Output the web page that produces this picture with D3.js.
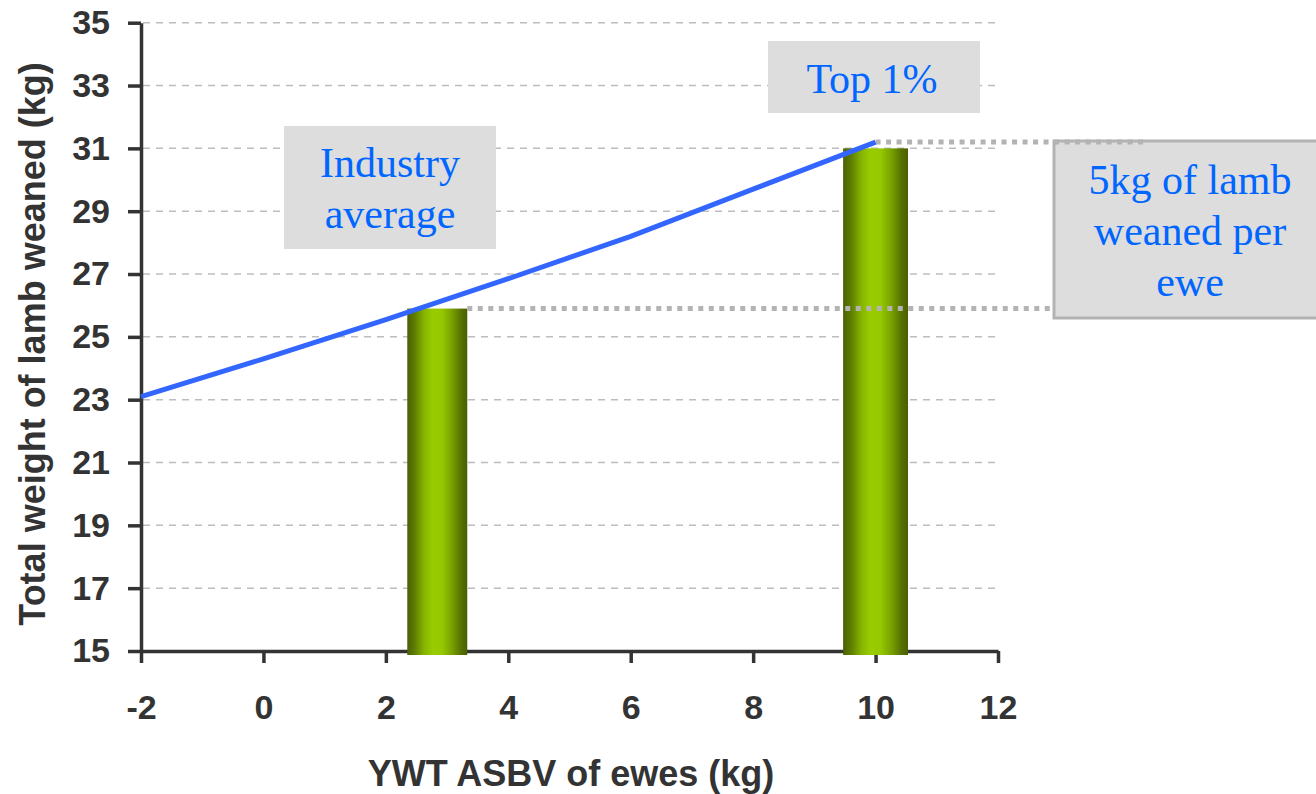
<!DOCTYPE html>
<html>
<head>
<meta charset="utf-8">
<script src="https://cdn.jsdelivr.net/npm/d3@7"></script>
<style>
  html, body { margin: 0; padding: 0; background: #ffffff; }
  svg { display: block; }
</style>
</head>
<body>
<svg id="chart" width="1316" height="794"></svg>
<script>
// ---- data ----
const xTicks = [-2, 0, 2, 4, 6, 8, 10, 12];
const yTicks = [15, 17, 19, 21, 23, 25, 27, 29, 31, 33, 35];

// total weight of lamb weaned against ewe YWT ASBV
const lineX = [-2, 0, 2, 4, 6, 8, 10];
const lineY = [23.1, 24.3, 25.55, 26.85, 28.2, 29.7, 31.2];

// the two highlighted flocks
const barNames = ["Industry average", "Top 1%"];
const barX = [2.84, 10];
const barY = [25.9, 31];
const barW = [0.98, 1.06];

const xTitle = "YWT ASBV of ewes (kg)";
const yTitle = "Total weight of lamb weaned (kg)";
const gapLabel = ["5kg of lamb", "weaned per", "ewe"];

// ---- layout ----
const svg = d3.select("#chart");
const x = d3.scaleLinear().domain([-2, 12]).range([141, 998]);
const y = d3.scaleLinear().domain([15, 35]).range([651, 22.7]);

const axisColor = "#333333";
const sansBold = "'Liberation Sans', Arial, sans-serif";
const serif = "'Liberation Serif', 'Times New Roman', serif";
const noteBlue = "#0066ff";
const boxFill = "#dddddd";
const dotGray = "#b3b3b3";

// gradient giving the bars their rounded, cylinder look
const defs = svg.append("defs");
const grad = defs.append("linearGradient").attr("id", "barGrad")
  .attr("x1", "0%").attr("x2", "100%").attr("y1", "0%").attr("y2", "0%");
[["0%", "#4a6000"], ["12%", "#5e7c00"], ["28%", "#86b400"], ["42%", "#99cc00"],
 ["58%", "#96c800"], ["74%", "#79a200"], ["90%", "#567000"], ["100%", "#4a6000"]]
  .forEach(([o, c]) => grad.append("stop").attr("offset", o).attr("stop-color", c));

// horizontal dashed gridlines
svg.append("g").selectAll("line")
  .data(yTicks.filter(v => v > 15))
  .join("line")
  .attr("x1", x(-2) + 2).attr("x2", x(12) - 3)
  .attr("y1", d => y(d)).attr("y2", d => y(d))
  .attr("stroke", "#bdbdbd").attr("stroke-width", 1.5)
  .attr("stroke-dasharray", "7,6");

// label boxes for the bars
function noteBox(x0, y0, w, h, lines, cx, baseline0, lineGap, border) {
  const g = svg.append("g");
  g.append("rect").attr("x", x0).attr("y", y0).attr("width", w).attr("height", h)
    .attr("fill", boxFill)
    .attr("stroke", border ? dotGray : "none").attr("stroke-width", border ? 3 : 0);
  g.selectAll("text").data(lines).join("text")
    .attr("x", cx).attr("y", (d, i) => baseline0 + i * lineGap)
    .attr("text-anchor", "middle")
    .attr("font-family", serif).attr("font-size", 42)
    .attr("fill", noteBlue)
    .text(d => d);
  return g;
}
noteBox(284, 126, 212, 123, ["Industry", "average"], 390, 177, 51, false);
noteBox(768, 41, 212, 72, [barNames[1]], 872, 93, 0, false);

// axes
const yAxis = svg.append("g").attr("transform", `translate(${x(-2)},0)`)
  .call(d3.axisLeft(y).tickValues(yTicks).tickSize(13).tickSizeOuter(0).tickPadding(18));
const xAxis = svg.append("g").attr("transform", `translate(0,${y(15)})`)
  .call(d3.axisBottom(x).tickValues(xTicks).tickSize(12).tickSizeOuter(0).tickPadding(32));
[yAxis, xAxis].forEach(a => {
  a.selectAll("path.domain").attr("stroke", axisColor).attr("stroke-width", 3.5);
  a.selectAll(".tick line").attr("stroke", axisColor).attr("stroke-width", 3.5);
  a.selectAll(".tick text")
    .attr("font-family", sansBold).attr("font-weight", "bold")
    .attr("font-size", 34).attr("fill", axisColor);
});
xAxis.selectAll(".tick text").text(d => String(d).replace("\u2212", "-"));

// bars
svg.append("g").selectAll("rect")
  .data(barX.map((v, i) => ({ x: v, y: barY[i], w: barW[i] })))
  .join("rect")
  .attr("x", d => x(d.x - d.w / 2))
  .attr("width", d => x(d.x + d.w / 2) - x(d.x - d.w / 2))
  .attr("y", d => y(d.y))
  .attr("height", d => y(15) + 4 - y(d.y))
  .attr("fill", "url(#barGrad)");

// box stating the gap between the two flocks
noteBox(1054, 141, 272, 177, gapLabel, 1190, 194, 51, true);

// dotted leaders marking the two levels
const lastX = lineX[lineX.length - 1], lastY = lineY[lineY.length - 1];
svg.append("line")
  .attr("x1", x(barX[0] + barW[0] / 2)).attr("x2", 1054)
  .attr("y1", y(barY[0])).attr("y2", y(barY[0]))
  .attr("stroke", dotGray).attr("stroke-width", 5).attr("stroke-dasharray", "5,5.5");
svg.append("line")
  .attr("x1", x(lastX)).attr("x2", 1148)
  .attr("y1", y(lastY)).attr("y2", y(lastY))
  .attr("stroke", dotGray).attr("stroke-width", 5).attr("stroke-dasharray", "5,5.5");

// response line
svg.append("path")
  .datum(lineX.map((v, i) => [v, lineY[i]]))
  .attr("fill", "none").attr("stroke", "#3366ff").attr("stroke-width", 5)
  .attr("d", d3.line().x(d => x(d[0])).y(d => y(d[1])));

// axis titles
svg.append("text")
  .attr("x", 571).attr("y", 786)
  .attr("text-anchor", "middle")
  .attr("font-family", sansBold).attr("font-weight", "bold").attr("font-size", 36)
  .attr("fill", axisColor).text(xTitle);
svg.append("text")
  .attr("transform", "translate(45,344) rotate(-90)")
  .attr("text-anchor", "middle")
  .attr("font-family", sansBold).attr("font-weight", "bold").attr("font-size", 36)
  .attr("fill", axisColor).text(yTitle);
</script>
</body>
</html>
